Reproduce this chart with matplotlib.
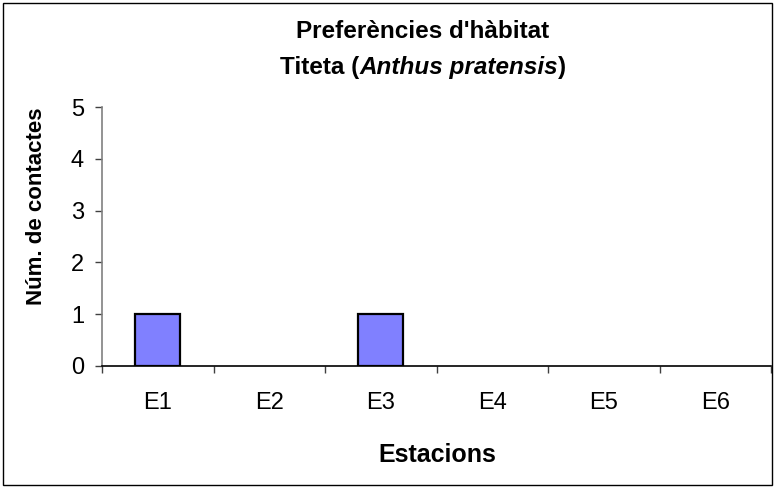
import matplotlib.pyplot as plt
from matplotlib.patches import Rectangle

plt.rcParams['font.family'] = ['Liberation Sans', 'DejaVu Sans']

# data
estacions = ['E1', 'E2', 'E3', 'E4', 'E5', 'E6']
contactes = [1, 0, 1, 0, 0, 0]
yticks = [0, 1, 2, 3, 4, 5]

fig = plt.figure(figsize=(7.75, 4.88), dpi=100)
ax = fig.add_axes([102 / 775, 1 - 366 / 488, 669 / 775, 259 / 488])

x = list(range(len(estacions)))
# empty stations get no bar at all (Excel draws nothing for 0)
xs = [i for i, v in zip(x, contactes) if v > 0]
vs = [v for v in contactes if v > 0]
ax.bar(xs, vs, width=0.4, color='#8080ff', edgecolor='black', linewidth=1.6, zorder=3)

ax.set_xlim(-0.5, len(estacions) - 0.5)
ax.set_ylim(0, 5)
ax.set_yticks(yticks)
ax.set_yticklabels([str(v) for v in yticks], fontsize=17)

# category labels centred, tick marks between categories
ax.set_xticks(x)
ax.set_xticklabels(estacions, fontsize=17)
ax.tick_params(axis='x', which='major', length=0, pad=19)
ax.set_xticks([i + 0.5 for i in range(-1, len(estacions))], minor=True)
ax.tick_params(axis='x', which='minor', length=5, width=1, direction='out', color='#404040')
ax.tick_params(axis='y', length=5, width=1, direction='out', color='#404040', pad=8)

for s in ['top', 'right']:
    ax.spines[s].set_visible(False)
ax.spines['left'].set_color('#808080')
ax.spines['left'].set_linewidth(1.2)
ax.spines['bottom'].set_color('black')
ax.spines['bottom'].set_linewidth(1.2)

fig.text(37 / 775, 1 - 206 / 488, 'Núm. de contactes', rotation=90, fontsize=16,
         fontweight='bold', ha='center', va='center')
fig.text(437 / 775, 1 - 455 / 488, 'Estacions', fontsize=18, fontweight='bold',
         ha='center', va='center')

# title, two lines, the species name in italics
cx = 423 / 775
fig.text(cx, 1 - 31 / 488, "Preferències d'hàbitat", fontsize=17.5, fontweight='bold',
         ha='center', va='center')
parts = [('Titeta (', 'normal'), ('Anthus pratensis', 'italic'), (')', 'normal')]
fig.canvas.draw()
r = fig.canvas.get_renderer()
texts = []
for s, st in parts:
    t = fig.text(0, 1 - 67 / 488, s, fontsize=17.5, fontweight='bold', style=st,
                 ha='left', va='center')
    texts.append(t)
widths = [t.get_window_extent(r).width / fig.bbox.width for t in texts]
xpos = cx - sum(widths) / 2
for t, w in zip(texts, widths):
    t.set_x(xpos)
    xpos += w

fig.patches.append(Rectangle((3 / 775, 3 / 488), 769 / 775, 482 / 488, transform=fig.transFigure,
                             fill=False, edgecolor='black', linewidth=1))

fig.savefig('out.png', dpi=100)
